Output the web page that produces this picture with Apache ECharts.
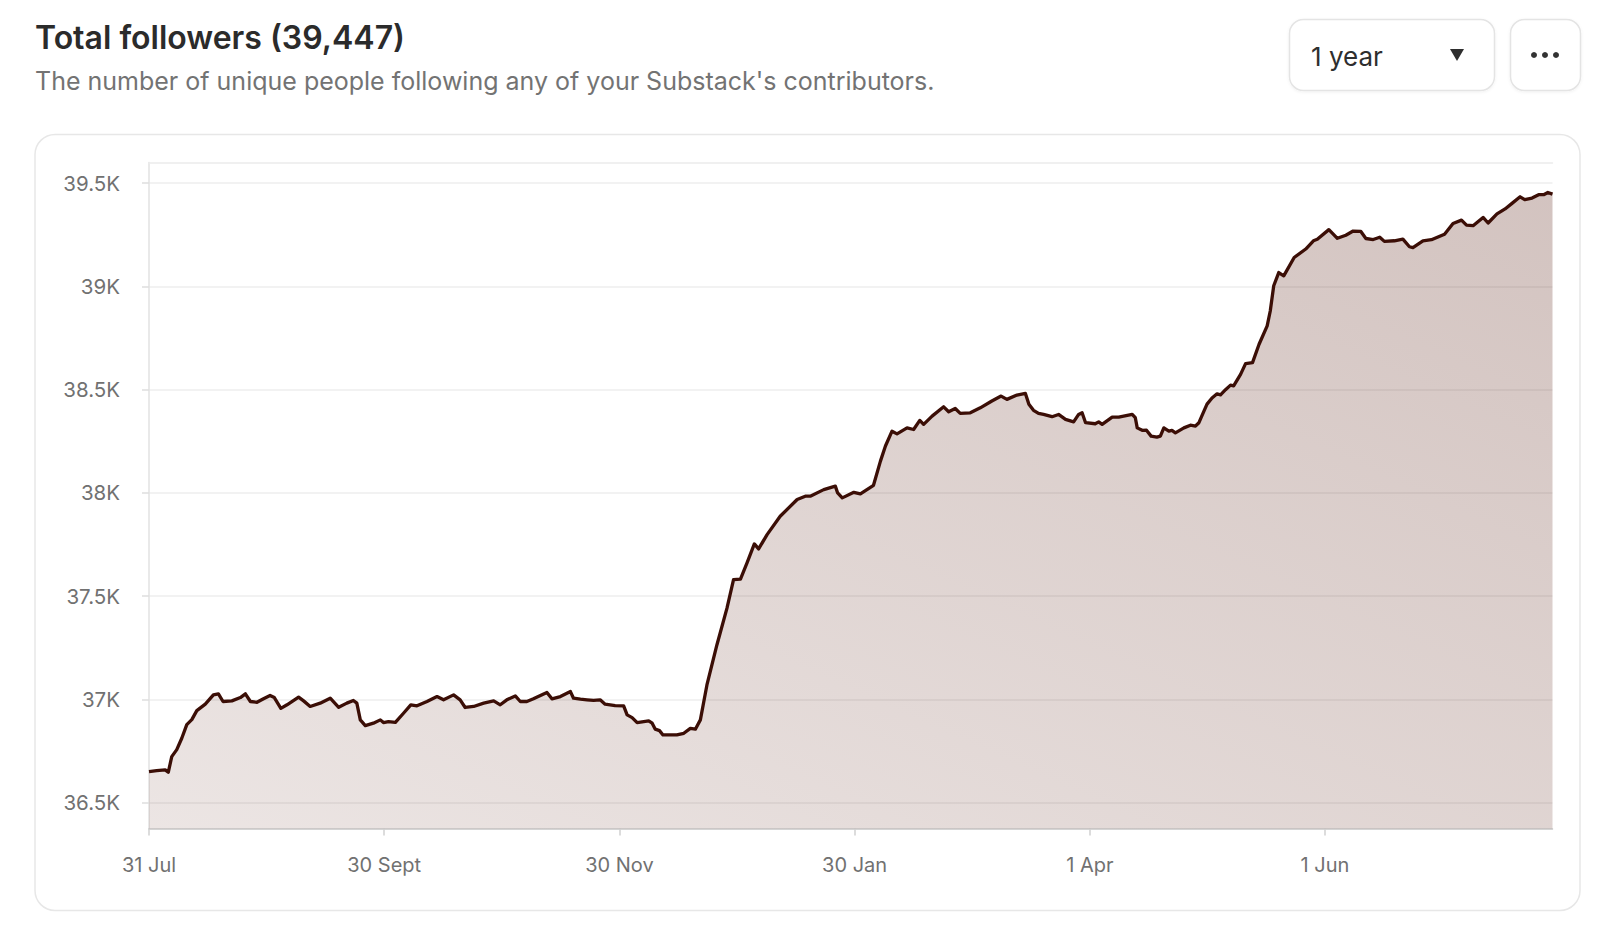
<!DOCTYPE html>
<html>
<head>
<meta charset="utf-8">
<script src="https://cdn.jsdelivr.net/npm/echarts@6/dist/echarts.min.js"></script>
<style>
  html, body { margin: 0; padding: 0; background: #ffffff; }
  #chart { width: 1610px; height: 926px; }
</style>
</head>
<body>
<div id="chart"></div>
<script>
// Day offset from 31 Jul
const days = [
  0, 2, 4.2, 5, 5.9, 7.2, 8.5, 9.8, 11.1, 12.4, 14.6, 16.7, 18, 19.2, 21.5, 23.7, 25, 26.3, 28, 29.7,
  31.4, 32.5, 34.2, 35.8, 38.8, 40.1, 41.8, 44.4, 47, 49.2, 51.3, 53, 53.9, 54.8, 56.1, 58.2, 60, 60.8,
  62.1, 63.9, 66, 67.9, 69.5, 72.1, 74.7, 76.4, 79, 80.7, 82, 84.2, 86.8, 89.4, 91.1, 92.8, 95, 96.3,
  98, 99.7, 103.2, 104.5, 106.7, 109.3, 110.1, 111.9, 113.6, 115.3, 117, 118.3, 120.9, 123.1, 124,
  125.3, 126.6, 129.6, 130.5, 131.3, 132.4, 133.3, 136.9, 138.7, 140.4, 141.7, 143, 144.7, 147.3,
  149.9, 151.6, 153.4, 155.1, 157, 158.1, 160.3, 163.7, 168.1, 170.2, 171.5, 175, 178, 178.6, 179.8,
  182.8, 184.5, 187.9, 189.7, 191, 192.7, 194, 196.6, 198.3, 199.9, 200.9, 203.1, 206.1, 207.4, 209.1,
  210.4, 213, 215.6, 218.6, 221, 222.5, 225.1, 227.3, 228.2, 229.4, 230.7, 232, 234.2, 235.9, 237.7,
  239.8, 241.1, 242, 242.9, 245.4, 246.3, 247.2, 249.8, 251.5, 255, 255.8, 256.3, 257.6, 258.7, 259.9,
  261.4, 262.3, 263.2, 264.5, 265.3, 266.2, 268.4, 270.1, 271.4, 272.3, 273.6, 274.4, 275.7, 277,
  277.9, 279.2, 280.5, 281.3, 283.1, 284.4, 286.2, 287.9, 290, 290.8, 291.7, 293, 294.3, 297, 300,
  302, 303, 306, 308.2, 310.4, 312.3, 314.3, 315.6, 317.5, 319.2, 320.4, 323, 325.2, 326.9, 327.8,
  330.4, 332.6, 336, 338.2, 340.4, 341.7, 343.4, 346, 347.3, 349.6, 351.7, 353.5, 355.6, 356.8, 358.7,
  360.4, 361.7, 362.8, 364
];
const followers = [
  36650, 36655, 36659, 36647, 36723, 36757, 36812, 36878, 36902, 36946, 36977, 37022, 37027, 36990, 36993, 37009, 37027, 36990, 36986, 37003,
  37019, 37009, 36957, 36974, 37011, 36993, 36966, 36982, 37006, 36962, 36982, 36995, 36982, 36901, 36873, 36885, 36901, 36888,
  36893, 36889, 36933, 36974, 36969, 36990, 37014, 36998, 37022, 36998, 36961, 36966, 36982, 36993, 36974, 36998, 37017, 36990,
  36990, 37003, 37034, 37003, 37014, 37038, 37006, 37001, 36998, 36995, 36998, 36977, 36970, 36969, 36925,
  36912, 36888, 36896, 36885, 36856, 36849, 36828, 36828, 36836, 36860, 36856, 36901, 37070, 37265,
  37442, 37580, 37583, 37661, 37753, 37729, 37798, 37887, 37968, 37984, 37984, 38016, 38033, 38000, 37976,
  38003, 37995, 38037, 38154, 38227, 38299, 38286, 38315, 38307, 38351, 38332, 38372, 38417, 38393, 38409,
  38385, 38388, 38412, 38445, 38469, 38453, 38474, 38482, 38429, 38400, 38385, 38380, 38369, 38380, 38356,
  38344, 38380, 38388, 38340, 38335, 38344, 38332, 38367, 38367, 38380, 38364, 38315, 38303, 38304, 38275,
  38270, 38275, 38315, 38299, 38303, 38291, 38315, 38328, 38324, 38340, 38396, 38430, 38460, 38480,
  38475, 38500, 38522, 38518, 38574, 38626, 38631, 38720, 38809, 38881, 39003, 39067, 39051, 39140, 39181,
  39221, 39228, 39275, 39233, 39248, 39268, 39266, 39232, 39227, 39238, 39218, 39221, 39229, 39192, 39188,
  39221, 39226, 39253, 39305, 39321, 39297, 39294, 39334, 39307, 39351, 39375, 39402, 39434, 39420, 39428,
  39444, 39444, 39455, 39447
];
const xTickDays = [0, 61, 122, 183, 244, 305];
const xTickLabels = ['31 Jul', '30 Sept', '30 Nov', '30 Jan', '1 Apr', '1 Jun'];
const yTickValues = [36500, 37000, 37500, 38000, 38500, 39000, 39500];
const yTickLabels = ['36.5K', '37K', '37.5K', '38K', '38.5K', '39K', '39.5K'];
const titleText = 'Total followers (39,447)';
const subtitleText = "The number of unique people following any of your Substack's contributors.";
const rangeText = '1 year';

const FONT = 'Inter, "Noto Sans", sans-serif';
const chart = echarts.init(document.getElementById('chart'), null, { renderer: 'svg' });

const seriesData = days.map((d, i) => [d, followers[i]]);

chart.setOption({
  backgroundColor: '#ffffff',
  animation: false,
  grid: { left: 149, right: 57.5, top: 162.5, bottom: 97.5, containLabel: false },
  xAxis: [
    {
      type: 'value', min: 0, max: 364, position: 'bottom',
      axisLine: { show: true, lineStyle: { color: '#c6c6c6', width: 1.5 } },
      axisTick: { show: true, length: 7, lineStyle: { color: '#d0d0d0', width: 1.5 }, customValues: xTickDays },
      axisLabel: {
        customValues: xTickDays, margin: 26, color: '#717171', fontSize: 20, fontFamily: FONT,
        formatter: v => { const i = xTickDays.indexOf(v); return i >= 0 ? xTickLabels[i] : ''; }
      },
      splitLine: { show: false }
    },
    {
      type: 'value', min: 0, max: 364, position: 'top',
      axisLine: { show: true, lineStyle: { color: '#ebebeb', width: 1.5 } },
      axisTick: { show: false }, axisLabel: { show: false }, splitLine: { show: false }
    }
  ],
  yAxis: {
    type: 'value', min: 36375, max: 39600,
    axisLine: { show: true, lineStyle: { color: '#e2e2e2', width: 1.5 } },
    axisTick: { show: true, length: 7, lineStyle: { color: '#dedede', width: 1.5 }, customValues: yTickValues },
    axisLabel: {
      customValues: yTickValues, margin: 29, color: '#717171', fontSize: 20.5, fontFamily: FONT,
      formatter: v => { const i = yTickValues.indexOf(v); return i >= 0 ? yTickLabels[i] : ''; }
    },
    splitLine: { show: true, lineStyle: { color: '#eeeeee', width: 1.5 } }
  },
  series: [{
    type: 'line',
    data: seriesData,
    xAxisIndex: 0,
    showSymbol: false,
    smooth: false,
    lineStyle: { color: '#3b0e06', width: 3.3, join: 'round' },
    areaStyle: {
      color: new echarts.graphic.LinearGradient(0, 1, 1, 0, [
        { offset: 0, color: 'rgba(85,25,12,0.16)' },
        { offset: 1, color: 'rgba(85,25,12,0.37)' }
      ])
    },
    z: 3
  }],
  graphic: [
    { type: 'rect', z: -10, shape: { x: 35, y: 134.5, width: 1545, height: 776, r: 20 },
      style: { fill: '#ffffff', stroke: '#e7e7e7', lineWidth: 1.5 } },
    { type: 'text', x: 35, y: 37, style: { text: titleText, font: '600 32px ' + FONT, fill: '#2b2b2b', verticalAlign: 'middle' } },
    { type: 'text', x: 35, y: 81, style: { text: subtitleText, font: '400 25px ' + FONT, fill: '#737373', verticalAlign: 'middle' } },
    { type: 'rect', shape: { x: 1289.5, y: 19.5, width: 205, height: 71, r: 14 },
      style: { fill: '#ffffff', stroke: '#e4e4e4', lineWidth: 1.5, shadowBlur: 3, shadowOffsetY: 1, shadowColor: 'rgba(0,0,0,0.06)' } },
    { type: 'text', x: 1311, y: 56, style: { text: rangeText, font: '400 26px ' + FONT, fill: '#2e2e2e', verticalAlign: 'middle' } },
    { type: 'polygon', shape: { points: [[1450, 49], [1464, 49], [1457, 61]] }, style: { fill: '#2e2e2e' } },
    { type: 'rect', shape: { x: 1510.5, y: 19.5, width: 70, height: 71, r: 14 },
      style: { fill: '#ffffff', stroke: '#e4e4e4', lineWidth: 1.5, shadowBlur: 3, shadowOffsetY: 1, shadowColor: 'rgba(0,0,0,0.06)' } },
    { type: 'circle', shape: { cx: 1534, cy: 55, r: 3 }, style: { fill: '#333333' } },
    { type: 'circle', shape: { cx: 1545, cy: 55, r: 3 }, style: { fill: '#333333' } },
    { type: 'circle', shape: { cx: 1556, cy: 55, r: 3 }, style: { fill: '#333333' } }
  ]
});
</script>
</body>
</html>
